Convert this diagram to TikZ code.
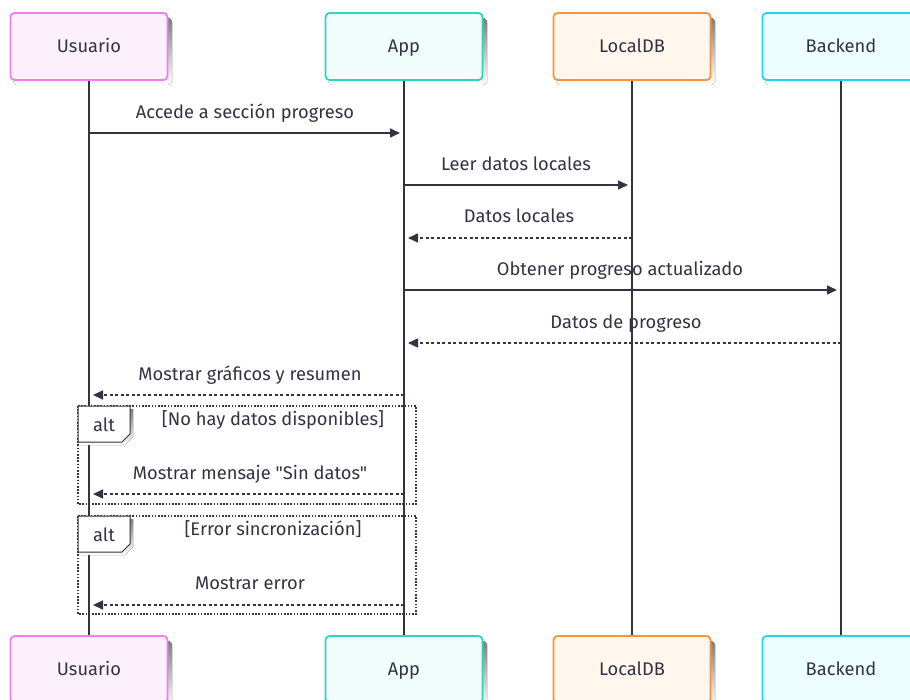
\documentclass[tikz,border=0pt]{standalone}
\usepackage{fontspec}
\newfontfamily\labelfont{Fira Sans}
\usetikzlibrary{arrows.meta}
\definecolor{ink}{HTML}{333344}
\definecolor{shade}{HTML}{F3F3F3}
\definecolor{userline}{HTML}{F07EF0}
\definecolor{userfill}{HTML}{FDF0FD}
\definecolor{appline}{HTML}{2DD4BF}
\definecolor{appfill}{HTML}{F0FDFA}
\definecolor{dbline}{HTML}{FB923C}
\definecolor{dbfill}{HTML}{FFF7ED}
\definecolor{beline}{HTML}{22D3EE}
\definecolor{befill}{HTML}{ECFEFF}
\tikzset{
  txt/.style={text=ink, font=\labelfont\fontsize{18.3}{22}\selectfont,
    text height=1.45em, text depth=0.2em},
  actor/.style={draw=#1line, fill=#1fill, line width=1.8pt, rounded corners=4pt,
    minimum width=157pt, minimum height=67pt, txt, inner sep=0pt},
  lifeline/.style={draw=ink, line width=2pt},
  msg/.style={draw=ink, line width=1.6pt, -{Triangle[length=10pt,width=9pt]}, shorten >=4pt},
  reply/.style={msg, dash pattern=on 3pt off 2.5pt},
  msglabel/.style={txt, inner sep=0pt},
  frame/.style={draw=ink, line width=1.4pt, dash pattern=on 1.6pt off 1.6pt},
  tag/.style={draw=ink, line width=1pt, fill=white},
}
\begin{document}
\begin{tikzpicture}[x=1pt,y=-1pt]
\useasboundingbox (0,0) rectangle (910,700);
\fill[white] (0,0) rectangle (910,700);

% soft shadows behind the participant boxes
\foreach \cx in {89,404,632,841}{
  \fill[shade, rounded corners=4pt] (\cx-76,18) rectangle (\cx+83,85);
  \fill[shade, rounded corners=4pt] (\cx-76,641) rectangle (\cx+83,708);
}

% participants, top and bottom
\node[actor=user] (uT) at (89,46.5) {Usuario};
\node[actor=app]  (aT) at (404,46.5) {App};
\node[actor=db]   (lT) at (632,46.5) {LocalDB};
\node[actor=be]   (bT) at (841,46.5) {Backend};
\node[actor=user] (uB) at (89,669.5) {Usuario};
\node[actor=app]  (aB) at (404,669.5) {App};
\node[actor=db]   (lB) at (632,669.5) {LocalDB};
\node[actor=be]   (bB) at (841,669.5) {Backend};

% message end points on the lifelines
\foreach \n/\y in {1/133,2/185,3/238,4/290,5/343,6/395,7/494,8/605}{
  \coordinate (u\n) at (uT.south |- 0,\y);
  \coordinate (a\n) at (aT.south |- 0,\y);
  \coordinate (l\n) at (lT.south |- 0,\y);
  \coordinate (b\n) at (bT.south |- 0,\y);
}

% message labels (the lifelines run over them)
\node[msglabel] (t1) at (245,112) {Accede a sección progreso};
\node[msglabel] (t2) at (516,164) {Leer datos locales};
\node[msglabel] (t3) at (519,216) {Datos locales};
\node[msglabel] (t4) at (620,269) {Obtener progreso actualizado};
\node[msglabel] (t5) at (626,322) {Datos de progreso};
\node[msglabel] (t6) at (250,374) {Mostrar gráficos y resumen};
\node[msglabel] (t7) at (250,473) {Mostrar mensaje "Sin datos"};
\node[msglabel] (t8) at (250,583) {Mostrar error};

% lifelines
\draw[lifeline] (uT) -- (uB);
\draw[lifeline] (aT) -- (aB);
\draw[lifeline] (lT) -- (lB);
\draw[lifeline] (bT) -- (bB);

% alt frames
\draw[frame] (78,406) rectangle (416,504);
\draw[frame] (78,516) rectangle (416,614);
\fill[shade] (81,409) -- (133,409) -- (133,437) -- (125,445) -- (81,445) -- cycle;
\draw[tag] (78,406) -- (130,406) -- (130,434) -- (122,442) -- (78,442) -- cycle;
\node[msglabel] (alt1) at (104,425) {alt};
\node[msglabel] (cond1) at (273,419) {[No hay datos disponibles]};
\fill[shade] (81,519) -- (133,519) -- (133,547) -- (125,555) -- (81,555) -- cycle;
\draw[tag] (78,516) -- (130,516) -- (130,544) -- (122,552) -- (78,552) -- cycle;
\node[msglabel] (alt2) at (104,535) {alt};
\node[msglabel] (cond2) at (273,529) {[Error sincronización]};

% messages
\draw[msg]   (u1) -- (a1);
\draw[msg]   (a2) -- (l2);
\draw[reply] (l3) -- (a3);
\draw[msg]   (a4) -- (b4);
\draw[reply] (b5) -- (a5);
\draw[reply] (a6) -- (u6);
\draw[reply] (a7) -- (u7);
\draw[reply] (a8) -- (u8);
\end{tikzpicture}
\end{document}
